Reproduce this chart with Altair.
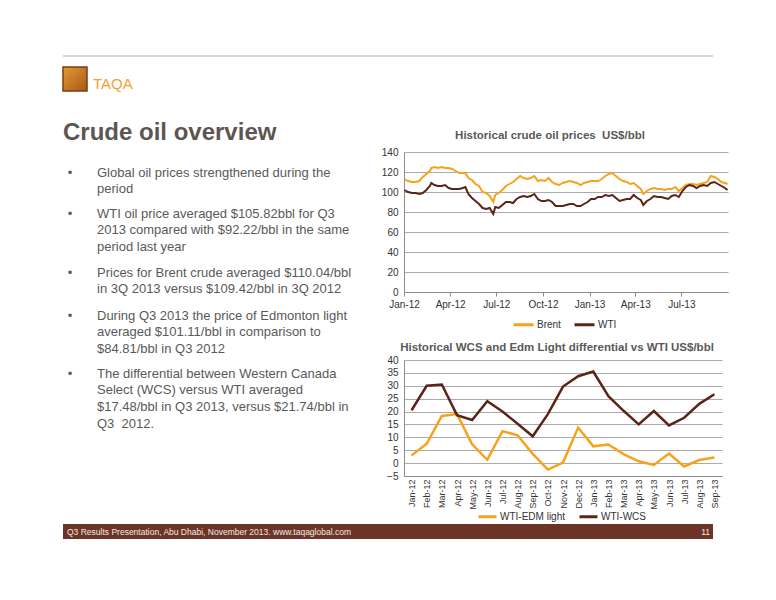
import altair as alt
import pandas as pd

# ---------------- data ----------------
SLIDE_TITLE = "Crude oil overview"
BRAND = "TAQA"
BULLETS = [
    ["Global oil prices strengthened during the", "period"],
    ["WTI oil price averaged $105.82bbl for Q3",
     "2013 compared with $92.22/bbl in the same", "period last year"],
    ["Prices for Brent crude averaged $110.04/bbl",
     "in 3Q 2013 versus $109.42/bbl in 3Q 2012"],
    ["During Q3 2013 the price of Edmonton light",
     "averaged $101.11/bbl in comparison to", "$84.81/bbl in Q3 2012"],
    ["The differential between Western Canada",
     "Select (WCS) versus WTI averaged",
     "$17.48/bbl in Q3 2013, versus $21.74/bbl in", "Q3\u00a0 2012."],
]
CHART1_TITLE = "Historical crude oil prices\u00a0 US$/bbl"
CHART2_TITLE = "Historical WCS and Edm Light differential vs WTI US$/bbl"
FOOTER = "Q3 Results Presentation, Abu Dhabi, November 2013. www.taqaglobal.com"
PAGE_NO = "11"

price_dates = [
    "2012-01-02", "2012-01-09", "2012-01-17", "2012-01-24", "2012-01-31",
    "2012-02-07", "2012-02-14", "2012-02-21", "2012-02-24", "2012-03-01",
    "2012-03-08", "2012-03-15", "2012-03-22", "2012-03-29", "2012-04-05",
    "2012-04-12", "2012-04-19", "2012-04-26", "2012-05-01", "2012-05-07",
    "2012-05-14", "2012-05-21", "2012-05-28", "2012-06-04", "2012-06-11",
    "2012-06-18", "2012-06-25", "2012-06-29", "2012-07-06", "2012-07-13",
    "2012-07-20", "2012-07-27", "2012-08-03", "2012-08-10", "2012-08-17",
    "2012-08-24", "2012-08-31", "2012-09-07", "2012-09-14", "2012-09-21",
    "2012-09-28", "2012-10-05", "2012-10-12", "2012-10-19", "2012-10-26",
    "2012-11-02", "2012-11-09", "2012-11-16", "2012-11-23", "2012-11-30",
    "2012-12-07", "2012-12-14", "2012-12-21", "2012-12-28", "2013-01-04",
    "2013-01-11", "2013-01-18", "2013-01-25", "2013-02-01", "2013-02-08",
    "2013-02-15", "2013-02-22", "2013-03-01", "2013-03-08", "2013-03-15",
    "2013-03-22", "2013-03-29", "2013-04-05", "2013-04-12", "2013-04-17",
    "2013-04-24", "2013-05-01", "2013-05-08", "2013-05-15", "2013-05-22",
    "2013-05-29", "2013-06-05", "2013-06-12", "2013-06-19", "2013-06-26",
    "2013-07-03", "2013-07-10", "2013-07-17", "2013-07-24", "2013-07-31",
    "2013-08-07", "2013-08-14", "2013-08-21", "2013-08-28", "2013-09-04",
    "2013-09-11", "2013-09-18", "2013-09-25", "2013-09-30",
]
brent = [
    113, 111, 110, 110, 111,
    115, 118, 121, 124, 125,
    124, 125, 124, 124, 123,
    121, 119, 119, 119, 114,
    112, 108, 106, 100, 99,
    96, 90, 97, 99, 102,
    106, 108, 110, 113, 116,
    114, 113, 114, 116, 111,
    112, 111, 114, 110, 108,
    107, 109, 110, 111, 110,
    109, 107, 109, 110, 111,
    111, 111, 113, 116, 118,
    119, 116, 113, 111, 110,
    108, 109, 106, 103, 98,
    101, 103, 104, 103, 103,
    102, 103, 103, 105, 101,
    104, 107, 108, 108, 107,
    108, 109, 110, 116, 115,
    113, 110, 109, 108,
]
wti = [
    102, 100, 99, 99, 98,
    99, 102, 106, 109, 107,
    106, 106, 107, 104, 103,
    103, 103, 104, 105, 98,
    94, 91, 88, 84, 83,
    84, 78, 85, 84, 87,
    90, 90, 89, 93, 95,
    96, 95, 96, 98, 93,
    91, 91, 92, 90, 86,
    86, 86, 87, 88, 88,
    86, 86, 88, 90, 93,
    93, 95, 95, 97, 96,
    97, 94, 91, 92, 93,
    93, 97, 94, 92, 87,
    91, 93, 96, 95, 95,
    94, 93, 96, 97, 95,
    101, 105, 107, 106, 104,
    106, 107, 106, 109, 110,
    108, 106, 104, 102,
]
price_series = ["Brent", "WTI"]
price_ticks = [(2012, 1), (2012, 4), (2012, 7), (2012, 10), (2013, 1), (2013, 4), (2013, 7)]

months = ["Jan-12", "Feb-12", "Mar-12", "Apr-12", "May-12", "Jun-12", "Jul-12",
          "Aug-12", "Sep-12", "Oct-12", "Nov-12", "Dec-12", "Jan-13", "Feb-13",
          "Mar-13", "Apr-13", "May-13", "Jun-13", "Jul-13", "Aug-13", "Sep-13"]
wti_edm = [3.0, 7.5, 18.3, 19.0, 7.3, 1.3, 12.4, 10.8, 3.6, -2.5, 0.2,
           13.8, 6.5, 7.2, 3.5, 0.7, -0.7, 3.7, -1.3, 1.2, 2.2]
wti_wcs = [20.5, 30.0, 30.5, 18.6, 16.7, 24.0, 20.0, 15.3, 10.4, 19.0, 29.7,
           33.7, 35.5, 26.0, 20.3, 15.0, 20.2, 14.6, 17.6, 23.0, 26.7]
diff_series = ["WTI-EDM light", "WTI-WCS"]

# ---------------- styling ----------------
FONT = "Liberation Sans"
ORANGE = "#f7a21b"
BROWN = "#5b2418"
GRID = "#ababab"
AXIS = "#8c8c8c"
LABEL = "#333333"
BODY = "#595959"

W, H = 760, 584
one = pd.DataFrame({"k": [0]})


def txt(s, x, y, size, color, weight="normal", align="left",
        baseline="alphabetic", lh=None):
    kw = dict(align=align, baseline=baseline, fontSize=size, color=color,
              fontWeight=weight, font=FONT)
    if lh:
        kw.update(lineBreak="\n", lineHeight=lh)
    return alt.Chart(pd.DataFrame({"t": [s]})).mark_text(**kw).encode(
        x=alt.value(x), y=alt.value(y), text="t:N")


decor = []
# header
decor.append(alt.Chart(one).mark_rule(color="#c8c8c8", strokeWidth=1.5).encode(
    x=alt.value(55), x2=alt.value(705), y=alt.value(48)))
decor.append(alt.Chart(one).mark_rect(
    color=alt.Gradient(gradient="linear", x1=0, y1=0, x2=1, y2=1,
                       stops=[alt.GradientStop(color="#e39a33", offset=0),
                              alt.GradientStop(color="#a9561a", offset=1)]),
    stroke="#7b3d12", strokeWidth=1.5).encode(
    x=alt.value(55), x2=alt.value(79), y=alt.value(59), y2=alt.value(83)))
decor.append(txt(BRAND, 85, 81, 15, "#f0a238"))
decor.append(txt(SLIDE_TITLE, 55, 132, 24, "#5d5650", weight="bold"))

# bullets
bullet_baselines = [168.5, 209.5, 268.5, 311.5, 369.5]
for lines, yb in zip(BULLETS, bullet_baselines):
    decor.append(txt("•", 62, yb, 13, BODY, align="center"))
    decor.append(txt("\n".join(lines), 89, yb, 13, BODY, lh=16.8))

# chart titles
decor.append(txt(CHART1_TITLE, 542, 128, 11.5, BODY, weight="bold",
                 align="center", baseline="middle"))
decor.append(txt(CHART2_TITLE, 549, 340, 11.5, BODY, weight="bold",
                 align="center", baseline="middle"))

# footer
decor.append(alt.Chart(one).mark_rect(color="#6b3427").encode(
    x=alt.value(55), x2=alt.value(705), y=alt.value(516), y2=alt.value(531)))
decor.append(txt(FOOTER, 59, 524, 8.5, "#f3ebe6", baseline="middle"))
decor.append(txt(PAGE_NO, 702, 524, 8.5, "#f3ebe6", align="right",
                 baseline="middle"))

# ---------------- chart 1 : prices ----------------
price_df = pd.DataFrame({"date": pd.to_datetime(price_dates),
                         "Brent": brent, "WTI": wti}).melt(
    id_vars="date", var_name="series", value_name="price")

c1 = alt.Chart(price_df).mark_line(strokeWidth=2).encode(
    x=alt.X("date:T",
            scale=alt.Scale(domain=[alt.DateTime(year=2012, month=1, date=1),
                                    alt.DateTime(year=2013, month=10, date=1)],
                            range=[396, 720]),
            axis=alt.Axis(orient="bottom", offset=-300, title=None, grid=False,
                          values=[alt.DateTime(year=y, month=m, date=1)
                                  for y, m in price_ticks],
                          format="%b-%y", labelFlush=False, ticks=True,
                          tickSize=4, tickColor=AXIS, domainColor=AXIS,
                          labelFont=FONT, labelFontSize=10, labelColor=LABEL,
                          labelPadding=3)),
    y=alt.Y("price:Q",
            scale=alt.Scale(domain=[0, 140], range=[284, 144], nice=False,
                            zero=False),
            axis=alt.Axis(orient="left", offset=-396, title=None, grid=True,
                          gridColor=GRID, values=list(range(0, 141, 20)),
                          ticks=False, domainColor=AXIS, labelFont=FONT,
                          labelFontSize=10, labelColor=LABEL, labelPadding=6)),
    color=alt.Color("series:N",
                    scale=alt.Scale(domain=price_series, range=[ORANGE, BROWN]),
                    legend=alt.Legend(orient="none", legendX=504, legendY=305,
                                      direction="horizontal", title=None,
                                      symbolType="stroke", symbolSize=400,
                                      symbolStrokeWidth=3, labelFont=FONT,
                                      labelFontSize=10, labelColor=LABEL,
                                      labelOffset=2, columnPadding=7,
                                      padding=0)),
)

# ---------------- chart 2 : differentials ----------------
diff_df = pd.DataFrame({"month": months, "WTI-EDM light": wti_edm,
                        "WTI-WCS": wti_wcs}).melt(
    id_vars="month", var_name="series", value_name="diff")

c2 = alt.Chart(diff_df).mark_line(strokeWidth=2.5).encode(
    x=alt.X("month:N", sort=months,
            scale=alt.Scale(type="point", padding=0.5, range=[396, 714]),
            axis=alt.Axis(orient="bottom", offset=-116, title=None, grid=False,
                          labelAngle=270, ticks=False, domainColor=AXIS,
                          labelFont=FONT, labelFontSize=9, labelColor=LABEL,
                          labelPadding=3, labelFlush=False)),
    y=alt.Y("diff:Q",
            scale=alt.Scale(domain=[-5, 40], range=[468, 352], nice=False,
                            zero=False),
            axis=alt.Axis(orient="left", offset=-396, title=None, grid=True,
                          gridColor=GRID, values=list(range(-5, 41, 5)),
                          ticks=False, domainColor=AXIS, labelFont=FONT,
                          labelFontSize=10, labelColor=LABEL, labelPadding=6)),
    color=alt.Color("series:N",
                    scale=alt.Scale(domain=diff_series, range=[ORANGE, BROWN]),
                    legend=alt.Legend(orient="none", legendX=469, legendY=498,
                                      direction="horizontal", title=None,
                                      symbolType="stroke", symbolSize=324,
                                      symbolStrokeWidth=3, labelFont=FONT,
                                      labelFontSize=10, labelColor=LABEL,
                                      labelOffset=2, columnPadding=8,
                                      padding=0)),
)

chart = alt.layer(*decor, c1, c2).resolve_scale(
    x="independent", y="independent", color="independent"
).properties(
    width=W, height=H, padding=0,
    autosize=alt.AutoSizeParams(type="none"),
).configure_view(stroke=None)

chart.save("out.html", embed_options={"renderer": "svg", "actions": False})
